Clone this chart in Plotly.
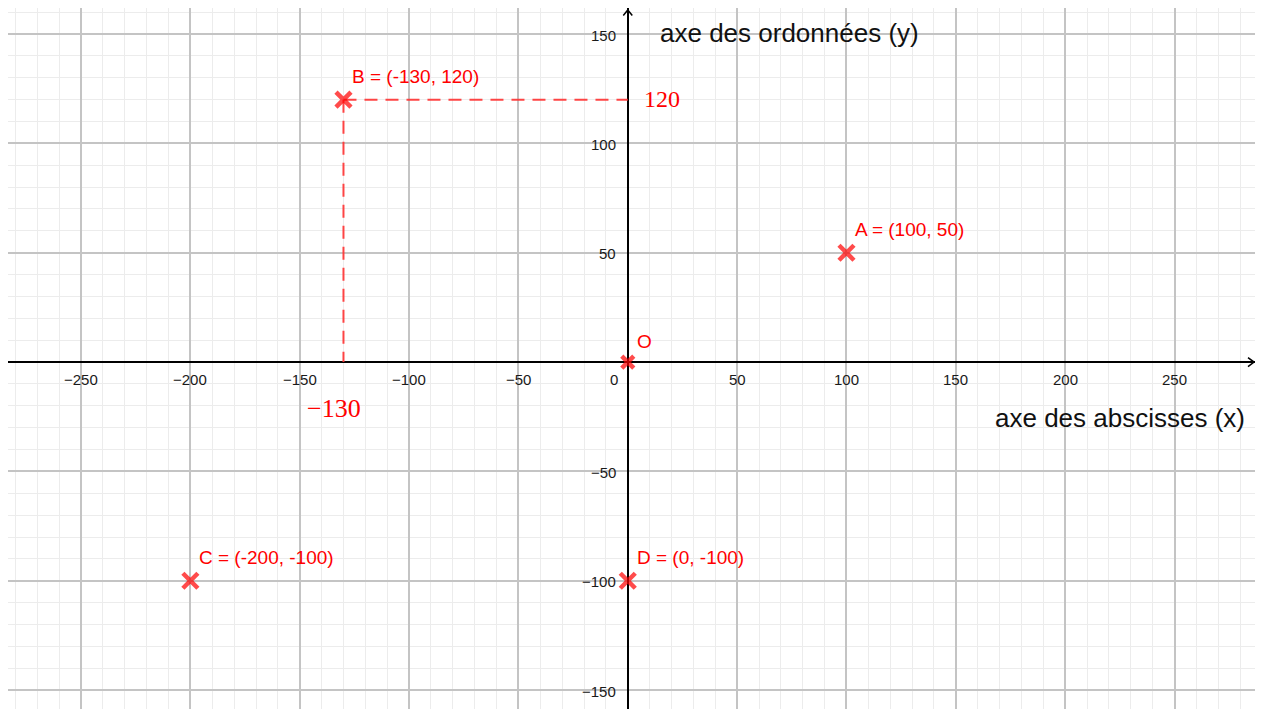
import plotly.graph_objects as go

# ---- data ----
point_names = ["A", "B", "C", "D", "O"]
point_x = [100, -130, -200, 0, 0]
point_y = [50, 120, -100, -100, 0]
show_coords = [True, True, True, True, False]

x_ticks = [-250, -200, -150, -100, -50, 0, 50, 100, 150, 200, 250]
y_ticks = [-150, -100, -50, 50, 100, 150]

x_axis_title = "axe des abscisses (x)"
y_axis_title = "axe des ordonnées (y)"

# projection of point B
proj_name = "B"

X_RANGE = [-283.4, 286.8]
Y_RANGE = [-162.3, 161.9]

RED = "#ff0000"
SANS = "Liberation Sans, Arial, sans-serif"
SERIF = "Liberation Serif, Times New Roman, serif"


def fmt(v):
    return ("\u2212" + str(abs(v))) if v < 0 else str(v)


fig = go.Figure()

# dashed projection lines for B
bi = point_names.index(proj_name)
bx, by = point_x[bi], point_y[bi]
fig.add_trace(go.Scatter(x=[bx, 0], y=[by, by], mode="lines",
                         line=dict(color="rgba(255,50,50,0.9)", width=2, dash="13px,8px"),
                         hoverinfo="skip"))
fig.add_trace(go.Scatter(x=[bx, bx], y=[by, 0], mode="lines",
                         line=dict(color="rgba(255,50,50,0.9)", width=2, dash="13px,8px"),
                         hoverinfo="skip"))

# points
sizes = [15 if n != "O" else 12 for n in point_names]
fig.add_trace(go.Scatter(x=point_x, y=point_y, mode="markers",
                         marker=dict(symbol="x-thin", size=sizes, color=RED,
                                     line=dict(color=RED, width=4.5)),
                         hoverinfo="skip"))

annotations = []
for n, px, py, sc in zip(point_names, point_x, point_y, show_coords):
    txt = f"{n} = ({px}, {py})" if sc else n
    annotations.append(dict(x=px, y=py, xref="x", yref="y", text=txt, showarrow=False,
                            xanchor="left", yanchor="middle",
                            xshift=7, yshift=23 if sc else 21,
                            font=dict(family=SANS, size=19, color=RED)))

# projection value labels
annotations.append(dict(x=0, y=by, xref="x", yref="y", text=str(by), showarrow=False,
                        xanchor="left", yanchor="middle", xshift=14, yshift=1,
                        font=dict(family=SERIF, size=24, color=RED)))
annotations.append(dict(x=bx, y=0, xref="x", yref="y", text=fmt(bx), showarrow=False,
                        xanchor="center", yanchor="middle", xshift=-9, yshift=-46,
                        font=dict(family=SERIF, size=26, color=RED)))

# tick labels
for tv in x_ticks:
    annotations.append(dict(x=tv, y=0, xref="x", yref="y", text=fmt(tv), showarrow=False,
                            xanchor="center", yanchor="middle", yshift=-17,
                            xshift=-14 if tv == 0 else 0,
                            font=dict(family=SANS, size=15, color="#1a1a1a")))
for tv in y_ticks:
    annotations.append(dict(x=0, y=tv, xref="x", yref="y", text=fmt(tv), showarrow=False,
                            xanchor="right", yanchor="middle", xshift=-10, yshift=-1,
                            font=dict(family=SANS, size=15, color="#1a1a1a")))

# axis titles
annotations.append(dict(x=0, y=150, xref="x", yref="y", text=y_axis_title, showarrow=False,
                        xanchor="left", yanchor="middle", xshift=30, yshift=1,
                        font=dict(family=SANS, size=26, color="#111111")))
annotations.append(dict(x=X_RANGE[1], y=0, xref="x", yref="y", text=x_axis_title, showarrow=False,
                        xanchor="right", yanchor="middle", xshift=-8, yshift=-56,
                        font=dict(family=SANS, size=26, color="#111111")))

# axis arrowheads
shapes = [
    dict(type="path", xref="x", yref="y", xsizemode="pixel", ysizemode="pixel",
         xanchor=X_RANGE[1], yanchor=0, path="M -7,4.5 L -1,0 L -7,-4.5",
         line=dict(color="black", width=1.5)),
    dict(type="path", xref="x", yref="y", xsizemode="pixel", ysizemode="pixel",
         xanchor=0, yanchor=Y_RANGE[1], path="M -4.5,-7.5 L 0,-2 L 4.5,-7.5",
         line=dict(color="black", width=1.5)),
]

axis_common = dict(
    showticklabels=False, ticks="", showline=False,
    zeroline=True, zerolinecolor="#000000", zerolinewidth=1.5,
    showgrid=True, gridcolor="#c4c4c4", gridwidth=1.5,
    tick0=0, dtick=50,
    minor=dict(dtick=10, tick0=0, showgrid=True, gridcolor="#ececec", gridwidth=1),
    fixedrange=True,
)

fig.update_layout(
    width=1247, height=709,
    margin=dict(l=0, r=0, t=0, b=0),
    plot_bgcolor="white", paper_bgcolor="white",
    showlegend=False,
    xaxis=dict(range=X_RANGE, **axis_common),
    yaxis=dict(range=Y_RANGE, **axis_common),
    annotations=annotations,
    shapes=shapes,
    hovermode=False,
)

fig.write_html("out.html")
